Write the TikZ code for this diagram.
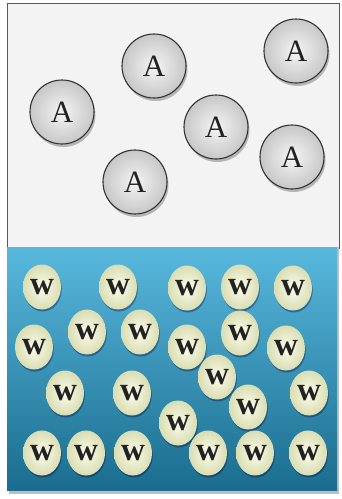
\documentclass[tikz,border=0pt]{standalone}
\usepackage{fontspec}
\setmainfont{Liberation Serif}
\usetikzlibrary{shapes.geometric,shadows}
\definecolor{boxgray}{HTML}{F3F3F3}
\definecolor{blueTop}{HTML}{58B8DD}
\definecolor{blueBot}{HTML}{1A6D8E}
\definecolor{creamIn}{HTML}{FCFCEC}
\definecolor{creamOut}{HTML}{D9DDB2}
\definecolor{inkc}{HTML}{222222}
\tikzset{
  amol/.style={circle, minimum size=64, inner sep=0, draw=black!80, line width=1.1pt,
    inner color=white!96!black, outer color=black!22, text=inkc,
    drop shadow={shadow xshift=1.5pt, shadow yshift=-3pt, opacity=0.25, fill=black},
    font=\fontsize{31}{31}\selectfont},
  wmol/.style={ellipse, minimum width=38, minimum height=45, inner sep=0,
    inner color=creamIn, outer color=creamOut, text=inkc,
    drop shadow={shadow xshift=0.8pt, shadow yshift=-2pt, opacity=0.35, fill=black!80!blue},
    font=\bfseries\fontsize{33}{33}\selectfont},
}
\begin{document}
\begin{tikzpicture}[x=1pt,y=-1pt]
\useasboundingbox (0,0) rectangle (341,499);
\fill[white] (0,0) rectangle (341,499);
% top box
\node[draw=black!65, line width=1.4pt, fill=boxgray, minimum width=332, minimum height=245, inner sep=0, anchor=north west] (topbox) at (7,3) {};
% bottom blue box
\fill[black!25] (9,247) rectangle (339,494);
\node[top color=blueTop, bottom color=blueBot, minimum width=330, minimum height=243, inner sep=0, anchor=north west, draw=none] (water) at (7,247) {};
% A molecules
\node[amol] (a1) at (154,66) {A};
\node[amol] (a2) at (296,51) {A};
\node[amol] (a3) at (62,112) {A};
\node[amol] (a4) at (216,127) {A};
\node[amol] (a5) at (292,157) {A};
\node[amol] (a6) at (135,182) {A};
% W molecules
\node[wmol] (w1) at (42,287) {w};
\node[wmol] (w2) at (118,287) {w};
\node[wmol] (w3) at (187,288) {w};
\node[wmol] (w4) at (240,287) {w};
\node[wmol] (w5) at (293,288) {w};
\node[wmol] (w6) at (87,332) {w};
\node[wmol] (w7) at (140,332) {w};
\node[wmol] (w8) at (240,333) {w};
\node[wmol] (w9) at (34,347) {w};
\node[wmol] (w10) at (187,347) {w};
\node[wmol] (w11) at (286,348) {w};
\node[wmol] (w12) at (217,377) {w};
\node[wmol] (w13) at (65,393) {w};
\node[wmol] (w14) at (132,393) {w};
\node[wmol] (w15) at (309,393) {w};
\node[wmol] (w16) at (248,407) {w};
\node[wmol] (w17) at (178,423) {w};
\node[wmol] (w18) at (42,453) {w};
\node[wmol] (w19) at (86,453) {w};
\node[wmol] (w20) at (133,453) {w};
\node[wmol] (w21) at (208,453) {w};
\node[wmol] (w22) at (255,453) {w};
\node[wmol] (w23) at (308,453) {w};
\end{tikzpicture}
\end{document}
